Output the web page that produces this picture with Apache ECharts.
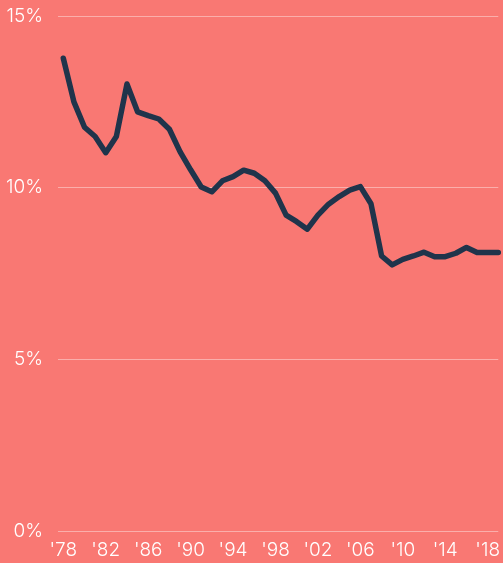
<!DOCTYPE html>
<html>
<head>
<meta charset="utf-8">
<title>Rate</title>
<script src="https://cdn.jsdelivr.net/npm/echarts@6/dist/echarts.min.js"></script>
<style>
  html, body { margin: 0; padding: 0; background: #f97873; }
</style>
</head>
<body>
<div id="main" style="width:503px;height:563px;"></div>
<script type="text/javascript">
// years on the x axis
var years = [1978, 1979, 1980, 1981, 1982, 1983, 1984, 1985, 1986, 1987,
             1988, 1989, 1990, 1991, 1992, 1993, 1994, 1995, 1996, 1997,
             1998, 1999, 2000, 2001, 2002, 2003, 2004, 2005, 2006, 2007,
             2008, 2009, 2010, 2011, 2012, 2013, 2014, 2015, 2016, 2017,
             2018, 2019];
// percent values
var rates = [13.77, 12.50, 11.76, 11.49, 11.02, 11.49, 13.02, 12.21, 12.10, 12.00,
             11.70, 11.05, 10.52, 10.02, 9.88, 10.20, 10.32, 10.51, 10.42, 10.20,
             9.84, 9.20, 9.01, 8.79, 9.20, 9.52, 9.74, 9.93, 10.03, 9.53,
             8.01, 7.75, 7.91, 8.01, 8.12, 7.99, 7.99, 8.09, 8.26, 8.11,
             8.11, 8.11];
var yearTicks = [1978, 1982, 1986, 1990, 1994, 1998, 2002, 2006, 2010, 2014, 2018];
var pctTicks = [0, 5, 10, 15];

var points = years.map(function (y, i) { return [y, rates[i]]; });

var myChart = echarts.init(document.getElementById('main'));

var option = {
  backgroundColor: '#f97873',
  animation: false,
  grid: { left: 58, right: 0, top: 16, bottom: 32, containLabel: false },
  xAxis: {
    type: 'value',
    min: 1977.5,
    max: 2019,
    axisLine: { show: false },
    axisTick: { show: false },
    splitLine: { show: false },
    axisLabel: {
      customValues: yearTicks,
      color: '#ffffff',
      fontFamily: 'Inter',
      fontWeight: 300,
      fontSize: 19,
      margin: 10,
      formatter: function (v) { return "'" + String(v).slice(2); }
    }
  },
  yAxis: {
    type: 'value',
    min: 0,
    max: 15,
    interval: 5,
    axisLine: { show: false },
    axisTick: { show: false },
    splitLine: { lineStyle: { color: 'rgba(255,255,255,0.4)', width: 1 } },
    axisLabel: {
      customValues: pctTicks,
      color: '#ffffff',
      fontFamily: 'Inter',
      fontWeight: 300,
      fontSize: 19,
      margin: 15,
      formatter: '{value}%'
    }
  },
  series: [{
    type: 'line',
    data: points,
    symbol: 'none',
    clip: true,
    lineStyle: { color: '#20344b', width: 5.5, cap: 'round', join: 'round' }
  }]
};

myChart.setOption(option);
</script>
</body>
</html>
